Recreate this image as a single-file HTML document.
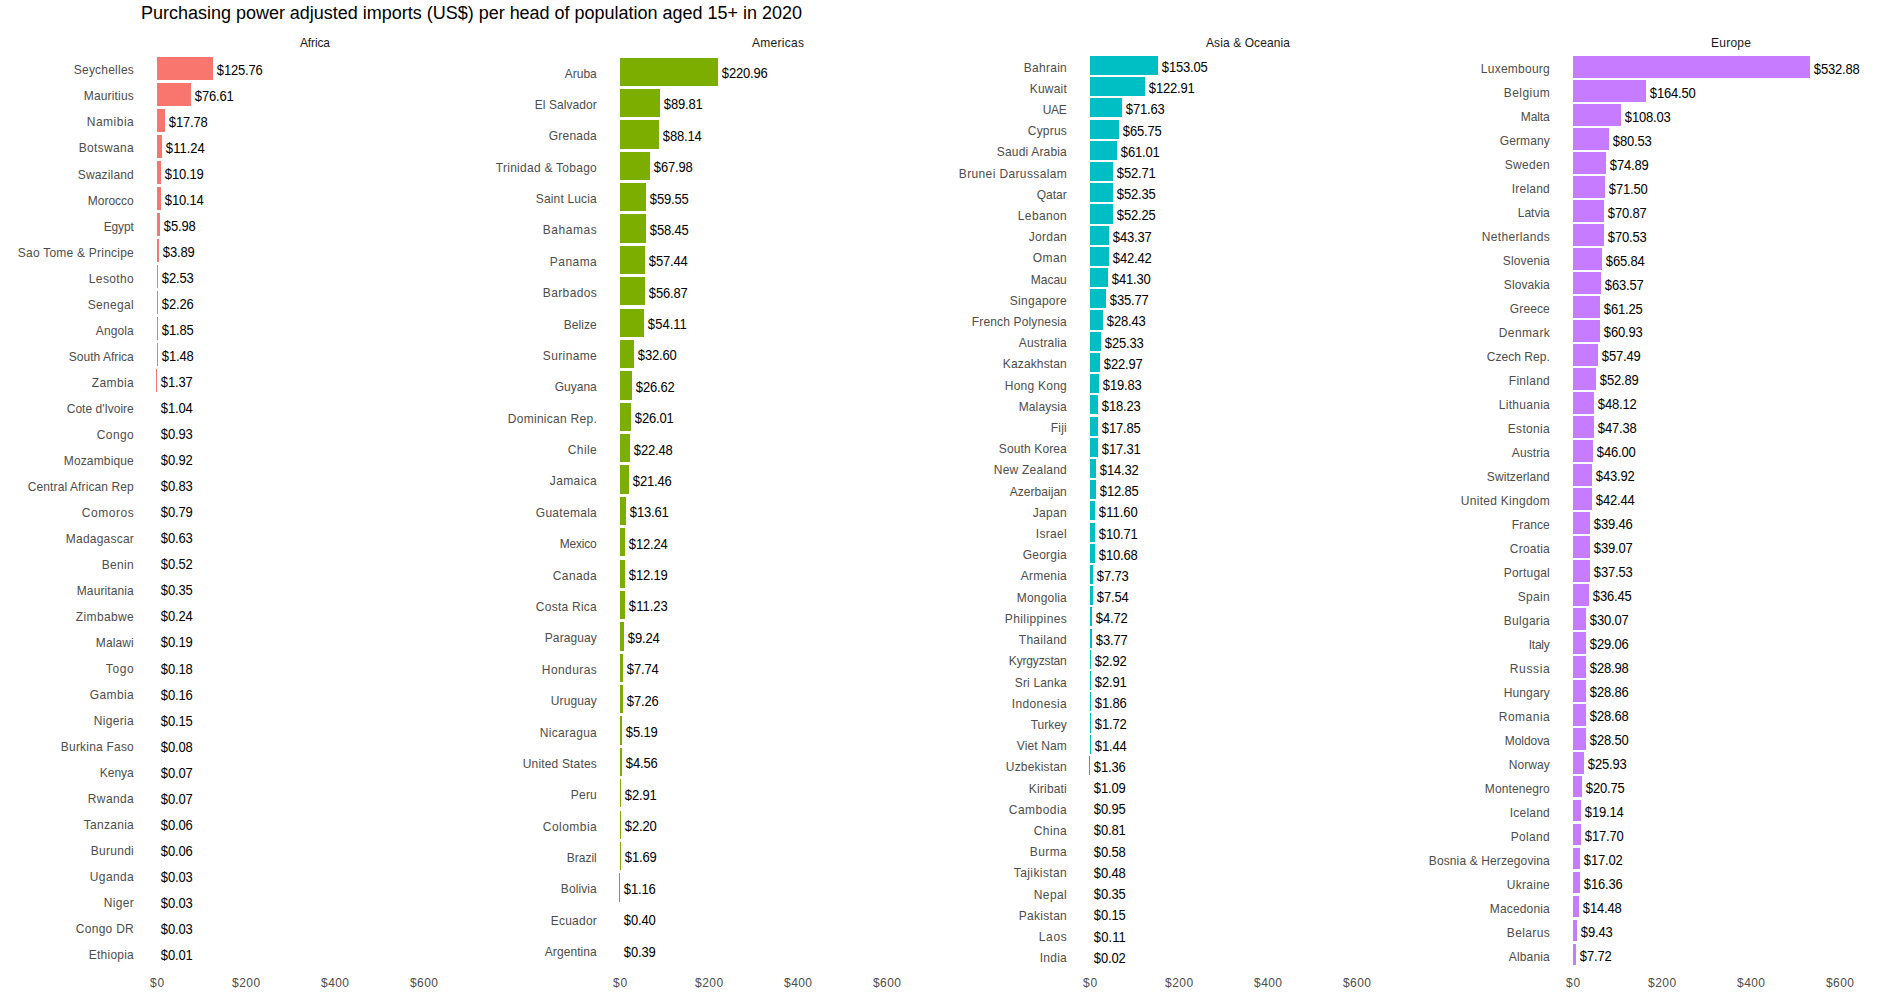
<!DOCTYPE html>
<html lang="en"><head><meta charset="utf-8"><title>Purchasing power adjusted imports</title>
<style>html,body{margin:0;padding:0;background:#fff}body{width:1881px;height:1002px;overflow:hidden}svg{display:block}text{font-family:"Liberation Sans",Arial,Helvetica,sans-serif}.t{font-size:18px;fill:#000}.s{font-size:12px;fill:#1a1a1a;text-anchor:middle}.a{font-size:12px;fill:#4d4d4d;text-anchor:end}.x{font-size:12px;fill:#4d4d4d;text-anchor:middle}.v{font-size:13px;fill:#000}</style></head><body>
<svg width="1881" height="1002" viewBox="0 0 1881 1002">
<rect width="1881" height="1002" fill="#fff"/>
<text class="t" x="141" y="19" textLength="661">Purchasing power adjusted imports (US$) per head of population aged 15+ in 2020</text>
<g>
<text class="s" transform="translate(314.97 47) scale(1 1.08)" textLength="30">Africa</text>
<g fill="#F8766D" shape-rendering="crispEdges">
<rect x="157" y="57" width="56" height="23"/>
<rect x="157" y="83" width="34" height="23"/>
<rect x="157" y="109" width="8" height="23"/>
<rect x="157" y="135" width="5" height="23"/>
<rect x="157" y="161" width="4" height="23"/>
<rect x="157" y="187" width="4" height="23"/>
<rect x="157" y="213" width="3" height="23"/>
<rect x="157" y="239" width="2" height="23"/>
<rect x="157" y="265" width="1" height="23"/>
<rect x="157" y="291" width="1" height="23"/>
<rect x="157" y="317" width="1" height="23"/>
<rect x="157" y="343" width="1" height="23"/>
<rect x="156" y="369" width="1" height="23"/>
</g>
<text class="a" transform="translate(133.77 74) scale(1 1.08)" textLength="60">Seychelles</text>
<text class="a" transform="translate(133.77 100) scale(1 1.08)" textLength="50">Mauritius</text>
<text class="a" transform="translate(133.77 126) scale(1 1.08)" textLength="47">Namibia</text>
<text class="a" transform="translate(133.77 152) scale(1 1.08)" textLength="55">Botswana</text>
<text class="a" transform="translate(133.77 179) scale(1 1.08)" textLength="56">Swaziland</text>
<text class="a" transform="translate(133.77 205) scale(1 1.08)" textLength="46">Morocco</text>
<text class="a" transform="translate(133.77 231) scale(1 1.08)" textLength="30">Egypt</text>
<text class="a" transform="translate(133.77 257) scale(1 1.08)" textLength="116">Sao Tome &amp; Principe</text>
<text class="a" transform="translate(133.77 283) scale(1 1.08)" textLength="45">Lesotho</text>
<text class="a" transform="translate(133.77 309) scale(1 1.08)" textLength="46">Senegal</text>
<text class="a" transform="translate(133.77 335) scale(1 1.08)" textLength="38">Angola</text>
<text class="a" transform="translate(133.77 361) scale(1 1.08)" textLength="65">South Africa</text>
<text class="a" transform="translate(133.77 387) scale(1 1.08)" textLength="42">Zambia</text>
<text class="a" transform="translate(133.77 413) scale(1 1.08)" textLength="67">Cote d'Ivoire</text>
<text class="a" transform="translate(133.77 439) scale(1 1.08)" textLength="37">Congo</text>
<text class="a" transform="translate(133.77 465) scale(1 1.08)" textLength="70">Mozambique</text>
<text class="a" transform="translate(133.77 491) scale(1 1.08)" textLength="106">Central African Rep</text>
<text class="a" transform="translate(133.77 517) scale(1 1.08)" textLength="52">Comoros</text>
<text class="a" transform="translate(133.77 543) scale(1 1.08)" textLength="68">Madagascar</text>
<text class="a" transform="translate(133.77 569) scale(1 1.08)" textLength="32">Benin</text>
<text class="a" transform="translate(133.77 595) scale(1 1.08)" textLength="57">Mauritania</text>
<text class="a" transform="translate(133.77 621) scale(1 1.08)" textLength="58">Zimbabwe</text>
<text class="a" transform="translate(133.77 647) scale(1 1.08)" textLength="38">Malawi</text>
<text class="a" transform="translate(133.77 673) scale(1 1.08)" textLength="28">Togo</text>
<text class="a" transform="translate(133.77 699) scale(1 1.08)" textLength="44">Gambia</text>
<text class="a" transform="translate(133.77 725) scale(1 1.08)" textLength="40">Nigeria</text>
<text class="a" transform="translate(133.77 751) scale(1 1.08)" textLength="73">Burkina Faso</text>
<text class="a" transform="translate(133.77 777) scale(1 1.08)" textLength="34">Kenya</text>
<text class="a" transform="translate(133.77 803) scale(1 1.08)" textLength="46">Rwanda</text>
<text class="a" transform="translate(133.77 829) scale(1 1.08)" textLength="50">Tanzania</text>
<text class="a" transform="translate(133.77 855) scale(1 1.08)" textLength="43">Burundi</text>
<text class="a" transform="translate(133.77 881) scale(1 1.08)" textLength="44">Uganda</text>
<text class="a" transform="translate(133.77 907) scale(1 1.08)" textLength="30">Niger</text>
<text class="a" transform="translate(133.77 933) scale(1 1.08)" textLength="58">Congo DR</text>
<text class="a" transform="translate(133.77 959) scale(1 1.08)" textLength="45">Ethiopia</text>
<text class="v" transform="translate(216.86 75) scale(1 1.1)" textLength="46">$125.76</text>
<text class="v" transform="translate(194.86 101) scale(1 1.1)" textLength="39">$76.61</text>
<text class="v" transform="translate(168.86 127) scale(1 1.1)" textLength="39">$17.78</text>
<text class="v" transform="translate(165.86 153) scale(1 1.1)" textLength="39">$11.24</text>
<text class="v" transform="translate(164.86 179) scale(1 1.1)" textLength="39">$10.19</text>
<text class="v" transform="translate(164.86 205) scale(1 1.1)" textLength="39">$10.14</text>
<text class="v" transform="translate(163.86 231) scale(1 1.1)" textLength="32">$5.98</text>
<text class="v" transform="translate(162.86 257) scale(1 1.1)" textLength="32">$3.89</text>
<text class="v" transform="translate(161.86 283) scale(1 1.1)" textLength="32">$2.53</text>
<text class="v" transform="translate(161.86 309) scale(1 1.1)" textLength="32">$2.26</text>
<text class="v" transform="translate(161.86 335) scale(1 1.1)" textLength="32">$1.85</text>
<text class="v" transform="translate(161.86 361) scale(1 1.1)" textLength="32">$1.48</text>
<text class="v" transform="translate(160.86 387) scale(1 1.1)" textLength="32">$1.37</text>
<text class="v" transform="translate(160.86 413) scale(1 1.1)" textLength="32">$1.04</text>
<text class="v" transform="translate(160.86 439) scale(1 1.1)" textLength="32">$0.93</text>
<text class="v" transform="translate(160.86 465) scale(1 1.1)" textLength="32">$0.92</text>
<text class="v" transform="translate(160.86 491) scale(1 1.1)" textLength="32">$0.83</text>
<text class="v" transform="translate(160.86 517) scale(1 1.1)" textLength="32">$0.79</text>
<text class="v" transform="translate(160.86 543) scale(1 1.1)" textLength="32">$0.63</text>
<text class="v" transform="translate(160.86 569) scale(1 1.1)" textLength="32">$0.52</text>
<text class="v" transform="translate(160.86 595) scale(1 1.1)" textLength="32">$0.35</text>
<text class="v" transform="translate(160.86 621) scale(1 1.1)" textLength="32">$0.24</text>
<text class="v" transform="translate(160.86 647) scale(1 1.1)" textLength="32">$0.19</text>
<text class="v" transform="translate(160.86 674) scale(1 1.1)" textLength="32">$0.18</text>
<text class="v" transform="translate(160.86 700) scale(1 1.1)" textLength="32">$0.16</text>
<text class="v" transform="translate(160.86 726) scale(1 1.1)" textLength="32">$0.15</text>
<text class="v" transform="translate(160.86 752) scale(1 1.1)" textLength="32">$0.08</text>
<text class="v" transform="translate(160.86 778) scale(1 1.1)" textLength="32">$0.07</text>
<text class="v" transform="translate(160.86 804) scale(1 1.1)" textLength="32">$0.07</text>
<text class="v" transform="translate(160.86 830) scale(1 1.1)" textLength="32">$0.06</text>
<text class="v" transform="translate(160.86 856) scale(1 1.1)" textLength="32">$0.06</text>
<text class="v" transform="translate(160.86 882) scale(1 1.1)" textLength="32">$0.03</text>
<text class="v" transform="translate(160.86 908) scale(1 1.1)" textLength="32">$0.03</text>
<text class="v" transform="translate(160.86 934) scale(1 1.1)" textLength="32">$0.03</text>
<text class="v" transform="translate(160.86 960) scale(1 1.1)" textLength="32">$0.01</text>
<text class="x" transform="translate(157.12 987) scale(1 1.08)" textLength="14">$0</text>
<text class="x" transform="translate(246.07 987) scale(1 1.08)" textLength="28">$200</text>
<text class="x" transform="translate(335.02 987) scale(1 1.08)" textLength="28">$400</text>
<text class="x" transform="translate(423.97 987) scale(1 1.08)" textLength="28">$600</text>
</g>
<g>
<text class="s" transform="translate(777.97 47) scale(1 1.08)" textLength="52">Americas</text>
<g fill="#7CAE00" shape-rendering="crispEdges">
<rect x="620" y="58" width="98" height="28"/>
<rect x="620" y="89" width="40" height="28"/>
<rect x="620" y="120" width="39" height="29"/>
<rect x="620" y="152" width="30" height="28"/>
<rect x="620" y="183" width="26" height="28"/>
<rect x="620" y="214" width="26" height="29"/>
<rect x="620" y="246" width="25" height="28"/>
<rect x="620" y="277" width="25" height="28"/>
<rect x="620" y="309" width="24" height="28"/>
<rect x="620" y="340" width="14" height="28"/>
<rect x="620" y="371" width="12" height="29"/>
<rect x="620" y="403" width="11" height="28"/>
<rect x="620" y="434" width="10" height="28"/>
<rect x="620" y="465" width="9" height="29"/>
<rect x="620" y="497" width="6" height="28"/>
<rect x="620" y="528" width="5" height="28"/>
<rect x="620" y="560" width="5" height="28"/>
<rect x="620" y="591" width="5" height="28"/>
<rect x="620" y="622" width="4" height="29"/>
<rect x="620" y="654" width="3" height="28"/>
<rect x="620" y="685" width="3" height="28"/>
<rect x="620" y="716" width="2" height="29"/>
<rect x="620" y="748" width="2" height="28"/>
<rect x="620" y="779" width="1" height="28"/>
<rect x="620" y="811" width="1" height="28"/>
<rect x="620" y="842" width="1" height="28"/>
<rect x="619" y="873" width="1" height="29"/>
</g>
<text class="a" transform="translate(596.77 78) scale(1 1.08)" textLength="32">Aruba</text>
<text class="a" transform="translate(596.77 109) scale(1 1.08)" textLength="62">El Salvador</text>
<text class="a" transform="translate(596.77 140) scale(1 1.08)" textLength="48">Grenada</text>
<text class="a" transform="translate(596.77 172) scale(1 1.08)" textLength="101">Trinidad &amp; Tobago</text>
<text class="a" transform="translate(596.77 203) scale(1 1.08)" textLength="61">Saint Lucia</text>
<text class="a" transform="translate(596.77 234) scale(1 1.08)" textLength="54">Bahamas</text>
<text class="a" transform="translate(596.77 266) scale(1 1.08)" textLength="47">Panama</text>
<text class="a" transform="translate(596.77 297) scale(1 1.08)" textLength="54">Barbados</text>
<text class="a" transform="translate(596.77 329) scale(1 1.08)" textLength="33">Belize</text>
<text class="a" transform="translate(596.77 360) scale(1 1.08)" textLength="54">Suriname</text>
<text class="a" transform="translate(596.77 391) scale(1 1.08)" textLength="42">Guyana</text>
<text class="a" transform="translate(596.77 423) scale(1 1.08)" textLength="89">Dominican Rep.</text>
<text class="a" transform="translate(596.77 454) scale(1 1.08)" textLength="29">Chile</text>
<text class="a" transform="translate(596.77 485) scale(1 1.08)" textLength="47">Jamaica</text>
<text class="a" transform="translate(596.77 517) scale(1 1.08)" textLength="61">Guatemala</text>
<text class="a" transform="translate(596.77 548) scale(1 1.08)" textLength="37">Mexico</text>
<text class="a" transform="translate(596.77 580) scale(1 1.08)" textLength="44">Canada</text>
<text class="a" transform="translate(596.77 611) scale(1 1.08)" textLength="61">Costa Rica</text>
<text class="a" transform="translate(596.77 642) scale(1 1.08)" textLength="52">Paraguay</text>
<text class="a" transform="translate(596.77 674) scale(1 1.08)" textLength="55">Honduras</text>
<text class="a" transform="translate(596.77 705) scale(1 1.08)" textLength="46">Uruguay</text>
<text class="a" transform="translate(596.77 737) scale(1 1.08)" textLength="57">Nicaragua</text>
<text class="a" transform="translate(596.77 768) scale(1 1.08)" textLength="74">United States</text>
<text class="a" transform="translate(596.77 799) scale(1 1.08)" textLength="26">Peru</text>
<text class="a" transform="translate(596.77 831) scale(1 1.08)" textLength="54">Colombia</text>
<text class="a" transform="translate(596.77 862) scale(1 1.08)" textLength="30">Brazil</text>
<text class="a" transform="translate(596.77 893) scale(1 1.08)" textLength="36">Bolivia</text>
<text class="a" transform="translate(596.77 925) scale(1 1.08)" textLength="46">Ecuador</text>
<text class="a" transform="translate(596.77 956) scale(1 1.08)" textLength="52">Argentina</text>
<text class="v" transform="translate(721.86 78) scale(1 1.1)" textLength="46">$220.96</text>
<text class="v" transform="translate(663.86 109) scale(1 1.1)" textLength="39">$89.81</text>
<text class="v" transform="translate(662.86 141) scale(1 1.1)" textLength="39">$88.14</text>
<text class="v" transform="translate(653.86 172) scale(1 1.1)" textLength="39">$67.98</text>
<text class="v" transform="translate(649.86 204) scale(1 1.1)" textLength="39">$59.55</text>
<text class="v" transform="translate(649.86 235) scale(1 1.1)" textLength="39">$58.45</text>
<text class="v" transform="translate(648.86 266) scale(1 1.1)" textLength="39">$57.44</text>
<text class="v" transform="translate(648.86 298) scale(1 1.1)" textLength="39">$56.87</text>
<text class="v" transform="translate(647.86 329) scale(1 1.1)" textLength="39">$54.11</text>
<text class="v" transform="translate(637.86 360) scale(1 1.1)" textLength="39">$32.60</text>
<text class="v" transform="translate(635.86 392) scale(1 1.1)" textLength="39">$26.62</text>
<text class="v" transform="translate(634.86 423) scale(1 1.1)" textLength="39">$26.01</text>
<text class="v" transform="translate(633.86 455) scale(1 1.1)" textLength="39">$22.48</text>
<text class="v" transform="translate(632.86 486) scale(1 1.1)" textLength="39">$21.46</text>
<text class="v" transform="translate(629.86 517) scale(1 1.1)" textLength="39">$13.61</text>
<text class="v" transform="translate(628.86 549) scale(1 1.1)" textLength="39">$12.24</text>
<text class="v" transform="translate(628.86 580) scale(1 1.1)" textLength="39">$12.19</text>
<text class="v" transform="translate(628.86 611) scale(1 1.1)" textLength="39">$11.23</text>
<text class="v" transform="translate(627.86 643) scale(1 1.1)" textLength="32">$9.24</text>
<text class="v" transform="translate(626.86 674) scale(1 1.1)" textLength="32">$7.74</text>
<text class="v" transform="translate(626.86 706) scale(1 1.1)" textLength="32">$7.26</text>
<text class="v" transform="translate(625.86 737) scale(1 1.1)" textLength="32">$5.19</text>
<text class="v" transform="translate(625.86 768) scale(1 1.1)" textLength="32">$4.56</text>
<text class="v" transform="translate(624.86 800) scale(1 1.1)" textLength="32">$2.91</text>
<text class="v" transform="translate(624.86 831) scale(1 1.1)" textLength="32">$2.20</text>
<text class="v" transform="translate(624.86 862) scale(1 1.1)" textLength="32">$1.69</text>
<text class="v" transform="translate(623.86 894) scale(1 1.1)" textLength="32">$1.16</text>
<text class="v" transform="translate(623.86 925) scale(1 1.1)" textLength="32">$0.40</text>
<text class="v" transform="translate(623.86 957) scale(1 1.1)" textLength="32">$0.39</text>
<text class="x" transform="translate(620.12 987) scale(1 1.08)" textLength="14">$0</text>
<text class="x" transform="translate(709.07 987) scale(1 1.08)" textLength="28">$200</text>
<text class="x" transform="translate(798.02 987) scale(1 1.08)" textLength="28">$400</text>
<text class="x" transform="translate(886.97 987) scale(1 1.08)" textLength="28">$600</text>
</g>
<g>
<text class="s" transform="translate(1247.97 47) scale(1 1.08)" textLength="84">Asia &amp; Oceania</text>
<g fill="#00BFC4" shape-rendering="crispEdges">
<rect x="1090" y="56" width="68" height="19"/>
<rect x="1090" y="77" width="55" height="19"/>
<rect x="1090" y="98" width="32" height="19"/>
<rect x="1090" y="120" width="29" height="19"/>
<rect x="1090" y="141" width="27" height="19"/>
<rect x="1090" y="162" width="23" height="19"/>
<rect x="1090" y="183" width="23" height="19"/>
<rect x="1090" y="204" width="23" height="20"/>
<rect x="1090" y="226" width="19" height="19"/>
<rect x="1090" y="247" width="19" height="19"/>
<rect x="1090" y="268" width="18" height="19"/>
<rect x="1090" y="289" width="16" height="19"/>
<rect x="1090" y="310" width="13" height="20"/>
<rect x="1090" y="332" width="11" height="19"/>
<rect x="1090" y="353" width="10" height="19"/>
<rect x="1090" y="374" width="9" height="19"/>
<rect x="1090" y="395" width="8" height="19"/>
<rect x="1090" y="417" width="8" height="19"/>
<rect x="1090" y="438" width="8" height="19"/>
<rect x="1090" y="459" width="6" height="19"/>
<rect x="1090" y="480" width="6" height="19"/>
<rect x="1090" y="501" width="5" height="19"/>
<rect x="1090" y="523" width="5" height="19"/>
<rect x="1090" y="544" width="5" height="19"/>
<rect x="1090" y="565" width="3" height="19"/>
<rect x="1090" y="586" width="3" height="19"/>
<rect x="1090" y="607" width="2" height="19"/>
<rect x="1090" y="629" width="2" height="19"/>
<rect x="1090" y="650" width="1" height="19"/>
<rect x="1090" y="671" width="1" height="19"/>
<rect x="1090" y="692" width="1" height="19"/>
<rect x="1090" y="713" width="1" height="20"/>
<rect x="1090" y="735" width="1" height="19"/>
<rect x="1089" y="756" width="1" height="19"/>
</g>
<text class="a" transform="translate(1066.77 72) scale(1 1.08)" textLength="43">Bahrain</text>
<text class="a" transform="translate(1066.77 93) scale(1 1.08)" textLength="37">Kuwait</text>
<text class="a" transform="translate(1066.77 114) scale(1 1.08)" textLength="24">UAE</text>
<text class="a" transform="translate(1066.77 135) scale(1 1.08)" textLength="39">Cyprus</text>
<text class="a" transform="translate(1066.77 156) scale(1 1.08)" textLength="70">Saudi Arabia</text>
<text class="a" transform="translate(1066.77 178) scale(1 1.08)" textLength="108">Brunei Darussalam</text>
<text class="a" transform="translate(1066.77 199) scale(1 1.08)" textLength="30">Qatar</text>
<text class="a" transform="translate(1066.77 220) scale(1 1.08)" textLength="49">Lebanon</text>
<text class="a" transform="translate(1066.77 241) scale(1 1.08)" textLength="38">Jordan</text>
<text class="a" transform="translate(1066.77 262) scale(1 1.08)" textLength="34">Oman</text>
<text class="a" transform="translate(1066.77 284) scale(1 1.08)" textLength="36">Macau</text>
<text class="a" transform="translate(1066.77 305) scale(1 1.08)" textLength="57">Singapore</text>
<text class="a" transform="translate(1066.77 326) scale(1 1.08)" textLength="95">French Polynesia</text>
<text class="a" transform="translate(1066.77 347) scale(1 1.08)" textLength="48">Australia</text>
<text class="a" transform="translate(1066.77 368) scale(1 1.08)" textLength="64">Kazakhstan</text>
<text class="a" transform="translate(1066.77 390) scale(1 1.08)" textLength="62">Hong Kong</text>
<text class="a" transform="translate(1066.77 411) scale(1 1.08)" textLength="48">Malaysia</text>
<text class="a" transform="translate(1066.77 432) scale(1 1.08)" textLength="16">Fiji</text>
<text class="a" transform="translate(1066.77 453) scale(1 1.08)" textLength="68">South Korea</text>
<text class="a" transform="translate(1066.77 474) scale(1 1.08)" textLength="73">New Zealand</text>
<text class="a" transform="translate(1066.77 496) scale(1 1.08)" textLength="57">Azerbaijan</text>
<text class="a" transform="translate(1066.77 517) scale(1 1.08)" textLength="34">Japan</text>
<text class="a" transform="translate(1066.77 538) scale(1 1.08)" textLength="31">Israel</text>
<text class="a" transform="translate(1066.77 559) scale(1 1.08)" textLength="44">Georgia</text>
<text class="a" transform="translate(1066.77 580) scale(1 1.08)" textLength="46">Armenia</text>
<text class="a" transform="translate(1066.77 602) scale(1 1.08)" textLength="50">Mongolia</text>
<text class="a" transform="translate(1066.77 623) scale(1 1.08)" textLength="62">Philippines</text>
<text class="a" transform="translate(1066.77 644) scale(1 1.08)" textLength="48">Thailand</text>
<text class="a" transform="translate(1066.77 665) scale(1 1.08)" textLength="58">Kyrgyzstan</text>
<text class="a" transform="translate(1066.77 687) scale(1 1.08)" textLength="52">Sri Lanka</text>
<text class="a" transform="translate(1066.77 708) scale(1 1.08)" textLength="55">Indonesia</text>
<text class="a" transform="translate(1066.77 729) scale(1 1.08)" textLength="36">Turkey</text>
<text class="a" transform="translate(1066.77 750) scale(1 1.08)" textLength="50">Viet Nam</text>
<text class="a" transform="translate(1066.77 771) scale(1 1.08)" textLength="61">Uzbekistan</text>
<text class="a" transform="translate(1066.77 793) scale(1 1.08)" textLength="38">Kiribati</text>
<text class="a" transform="translate(1066.77 814) scale(1 1.08)" textLength="58">Cambodia</text>
<text class="a" transform="translate(1066.77 835) scale(1 1.08)" textLength="33">China</text>
<text class="a" transform="translate(1066.77 856) scale(1 1.08)" textLength="37">Burma</text>
<text class="a" transform="translate(1066.77 877) scale(1 1.08)" textLength="53">Tajikistan</text>
<text class="a" transform="translate(1066.77 899) scale(1 1.08)" textLength="33">Nepal</text>
<text class="a" transform="translate(1066.77 920) scale(1 1.08)" textLength="48">Pakistan</text>
<text class="a" transform="translate(1066.77 941) scale(1 1.08)" textLength="28">Laos</text>
<text class="a" transform="translate(1066.77 962) scale(1 1.08)" textLength="27">India</text>
<text class="v" transform="translate(1161.86 72) scale(1 1.1)" textLength="46">$153.05</text>
<text class="v" transform="translate(1148.86 93) scale(1 1.1)" textLength="46">$122.91</text>
<text class="v" transform="translate(1125.86 114) scale(1 1.1)" textLength="39">$71.63</text>
<text class="v" transform="translate(1122.86 136) scale(1 1.1)" textLength="39">$65.75</text>
<text class="v" transform="translate(1120.86 157) scale(1 1.1)" textLength="39">$61.01</text>
<text class="v" transform="translate(1116.86 178) scale(1 1.1)" textLength="39">$52.71</text>
<text class="v" transform="translate(1116.86 199) scale(1 1.1)" textLength="39">$52.35</text>
<text class="v" transform="translate(1116.86 220) scale(1 1.1)" textLength="39">$52.25</text>
<text class="v" transform="translate(1112.86 242) scale(1 1.1)" textLength="39">$43.37</text>
<text class="v" transform="translate(1112.86 263) scale(1 1.1)" textLength="39">$42.42</text>
<text class="v" transform="translate(1111.86 284) scale(1 1.1)" textLength="39">$41.30</text>
<text class="v" transform="translate(1109.86 305) scale(1 1.1)" textLength="39">$35.77</text>
<text class="v" transform="translate(1106.86 326) scale(1 1.1)" textLength="39">$28.43</text>
<text class="v" transform="translate(1104.86 348) scale(1 1.1)" textLength="39">$25.33</text>
<text class="v" transform="translate(1103.86 369) scale(1 1.1)" textLength="39">$22.97</text>
<text class="v" transform="translate(1102.86 390) scale(1 1.1)" textLength="39">$19.83</text>
<text class="v" transform="translate(1101.86 411) scale(1 1.1)" textLength="39">$18.23</text>
<text class="v" transform="translate(1101.86 433) scale(1 1.1)" textLength="39">$17.85</text>
<text class="v" transform="translate(1101.86 454) scale(1 1.1)" textLength="39">$17.31</text>
<text class="v" transform="translate(1099.86 475) scale(1 1.1)" textLength="39">$14.32</text>
<text class="v" transform="translate(1099.86 496) scale(1 1.1)" textLength="39">$12.85</text>
<text class="v" transform="translate(1098.86 517) scale(1 1.1)" textLength="39">$11.60</text>
<text class="v" transform="translate(1098.86 539) scale(1 1.1)" textLength="39">$10.71</text>
<text class="v" transform="translate(1098.86 560) scale(1 1.1)" textLength="39">$10.68</text>
<text class="v" transform="translate(1096.86 581) scale(1 1.1)" textLength="32">$7.73</text>
<text class="v" transform="translate(1096.86 602) scale(1 1.1)" textLength="32">$7.54</text>
<text class="v" transform="translate(1095.86 623) scale(1 1.1)" textLength="32">$4.72</text>
<text class="v" transform="translate(1095.86 645) scale(1 1.1)" textLength="32">$3.77</text>
<text class="v" transform="translate(1094.86 666) scale(1 1.1)" textLength="32">$2.92</text>
<text class="v" transform="translate(1094.86 687) scale(1 1.1)" textLength="32">$2.91</text>
<text class="v" transform="translate(1094.86 708) scale(1 1.1)" textLength="32">$1.86</text>
<text class="v" transform="translate(1094.86 729) scale(1 1.1)" textLength="32">$1.72</text>
<text class="v" transform="translate(1094.86 751) scale(1 1.1)" textLength="32">$1.44</text>
<text class="v" transform="translate(1093.86 772) scale(1 1.1)" textLength="32">$1.36</text>
<text class="v" transform="translate(1093.86 793) scale(1 1.1)" textLength="32">$1.09</text>
<text class="v" transform="translate(1093.86 814) scale(1 1.1)" textLength="32">$0.95</text>
<text class="v" transform="translate(1093.86 835) scale(1 1.1)" textLength="32">$0.81</text>
<text class="v" transform="translate(1093.86 857) scale(1 1.1)" textLength="32">$0.58</text>
<text class="v" transform="translate(1093.86 878) scale(1 1.1)" textLength="32">$0.48</text>
<text class="v" transform="translate(1093.86 899) scale(1 1.1)" textLength="32">$0.35</text>
<text class="v" transform="translate(1093.86 920) scale(1 1.1)" textLength="32">$0.15</text>
<text class="v" transform="translate(1093.86 942) scale(1 1.1)" textLength="32">$0.11</text>
<text class="v" transform="translate(1093.86 963) scale(1 1.1)" textLength="32">$0.02</text>
<text class="x" transform="translate(1090.12 987) scale(1 1.08)" textLength="14">$0</text>
<text class="x" transform="translate(1179.07 987) scale(1 1.08)" textLength="28">$200</text>
<text class="x" transform="translate(1268.02 987) scale(1 1.08)" textLength="28">$400</text>
<text class="x" transform="translate(1356.97 987) scale(1 1.08)" textLength="28">$600</text>
</g>
<g>
<text class="s" transform="translate(1730.97 47) scale(1 1.08)" textLength="40">Europe</text>
<g fill="#C77CFF" shape-rendering="crispEdges">
<rect x="1573" y="56" width="237" height="22"/>
<rect x="1573" y="80" width="73" height="22"/>
<rect x="1573" y="104" width="48" height="22"/>
<rect x="1573" y="128" width="36" height="22"/>
<rect x="1573" y="152" width="33" height="22"/>
<rect x="1573" y="176" width="32" height="22"/>
<rect x="1573" y="200" width="31" height="22"/>
<rect x="1573" y="224" width="31" height="22"/>
<rect x="1573" y="248" width="29" height="22"/>
<rect x="1573" y="272" width="28" height="22"/>
<rect x="1573" y="296" width="27" height="22"/>
<rect x="1573" y="320" width="27" height="22"/>
<rect x="1573" y="344" width="25" height="22"/>
<rect x="1573" y="368" width="23" height="22"/>
<rect x="1573" y="392" width="21" height="22"/>
<rect x="1573" y="416" width="21" height="22"/>
<rect x="1573" y="440" width="20" height="22"/>
<rect x="1573" y="464" width="19" height="22"/>
<rect x="1573" y="488" width="19" height="22"/>
<rect x="1573" y="512" width="17" height="22"/>
<rect x="1573" y="536" width="17" height="22"/>
<rect x="1573" y="560" width="17" height="22"/>
<rect x="1573" y="584" width="16" height="22"/>
<rect x="1573" y="608" width="13" height="22"/>
<rect x="1573" y="632" width="13" height="22"/>
<rect x="1573" y="656" width="13" height="22"/>
<rect x="1573" y="680" width="13" height="22"/>
<rect x="1573" y="704" width="13" height="22"/>
<rect x="1573" y="728" width="13" height="22"/>
<rect x="1573" y="752" width="11" height="22"/>
<rect x="1573" y="776" width="9" height="21"/>
<rect x="1573" y="800" width="8" height="21"/>
<rect x="1573" y="824" width="8" height="21"/>
<rect x="1573" y="848" width="7" height="21"/>
<rect x="1573" y="872" width="7" height="21"/>
<rect x="1573" y="896" width="6" height="21"/>
<rect x="1573" y="920" width="4" height="21"/>
<rect x="1573" y="944" width="3" height="21"/>
</g>
<text class="a" transform="translate(1549.77 73) scale(1 1.08)" textLength="69">Luxembourg</text>
<text class="a" transform="translate(1549.77 97) scale(1 1.08)" textLength="46">Belgium</text>
<text class="a" transform="translate(1549.77 121) scale(1 1.08)" textLength="29">Malta</text>
<text class="a" transform="translate(1549.77 145) scale(1 1.08)" textLength="50">Germany</text>
<text class="a" transform="translate(1549.77 169) scale(1 1.08)" textLength="45">Sweden</text>
<text class="a" transform="translate(1549.77 193) scale(1 1.08)" textLength="38">Ireland</text>
<text class="a" transform="translate(1549.77 217) scale(1 1.08)" textLength="32">Latvia</text>
<text class="a" transform="translate(1549.77 241) scale(1 1.08)" textLength="68">Netherlands</text>
<text class="a" transform="translate(1549.77 265) scale(1 1.08)" textLength="47">Slovenia</text>
<text class="a" transform="translate(1549.77 289) scale(1 1.08)" textLength="46">Slovakia</text>
<text class="a" transform="translate(1549.77 313) scale(1 1.08)" textLength="40">Greece</text>
<text class="a" transform="translate(1549.77 337) scale(1 1.08)" textLength="51">Denmark</text>
<text class="a" transform="translate(1549.77 361) scale(1 1.08)" textLength="63">Czech Rep.</text>
<text class="a" transform="translate(1549.77 385) scale(1 1.08)" textLength="41">Finland</text>
<text class="a" transform="translate(1549.77 409) scale(1 1.08)" textLength="51">Lithuania</text>
<text class="a" transform="translate(1549.77 433) scale(1 1.08)" textLength="42">Estonia</text>
<text class="a" transform="translate(1549.77 457) scale(1 1.08)" textLength="38">Austria</text>
<text class="a" transform="translate(1549.77 481) scale(1 1.08)" textLength="63">Switzerland</text>
<text class="a" transform="translate(1549.77 505) scale(1 1.08)" textLength="89">United Kingdom</text>
<text class="a" transform="translate(1549.77 529) scale(1 1.08)" textLength="38">France</text>
<text class="a" transform="translate(1549.77 553) scale(1 1.08)" textLength="40">Croatia</text>
<text class="a" transform="translate(1549.77 577) scale(1 1.08)" textLength="46">Portugal</text>
<text class="a" transform="translate(1549.77 601) scale(1 1.08)" textLength="32">Spain</text>
<text class="a" transform="translate(1549.77 625) scale(1 1.08)" textLength="46">Bulgaria</text>
<text class="a" transform="translate(1549.77 649) scale(1 1.08)" textLength="21">Italy</text>
<text class="a" transform="translate(1549.77 673) scale(1 1.08)" textLength="40">Russia</text>
<text class="a" transform="translate(1549.77 697) scale(1 1.08)" textLength="46">Hungary</text>
<text class="a" transform="translate(1549.77 721) scale(1 1.08)" textLength="51">Romania</text>
<text class="a" transform="translate(1549.77 745) scale(1 1.08)" textLength="45">Moldova</text>
<text class="a" transform="translate(1549.77 769) scale(1 1.08)" textLength="41">Norway</text>
<text class="a" transform="translate(1549.77 793) scale(1 1.08)" textLength="65">Montenegro</text>
<text class="a" transform="translate(1549.77 817) scale(1 1.08)" textLength="40">Iceland</text>
<text class="a" transform="translate(1549.77 841) scale(1 1.08)" textLength="39">Poland</text>
<text class="a" transform="translate(1549.77 865) scale(1 1.08)" textLength="121">Bosnia &amp; Herzegovina</text>
<text class="a" transform="translate(1549.77 889) scale(1 1.08)" textLength="43">Ukraine</text>
<text class="a" transform="translate(1549.77 913) scale(1 1.08)" textLength="60">Macedonia</text>
<text class="a" transform="translate(1549.77 937) scale(1 1.08)" textLength="43">Belarus</text>
<text class="a" transform="translate(1549.77 961) scale(1 1.08)" textLength="41">Albania</text>
<text class="v" transform="translate(1813.86 74) scale(1 1.1)" textLength="46">$532.88</text>
<text class="v" transform="translate(1649.86 98) scale(1 1.1)" textLength="46">$164.50</text>
<text class="v" transform="translate(1624.86 122) scale(1 1.1)" textLength="46">$108.03</text>
<text class="v" transform="translate(1612.86 146) scale(1 1.1)" textLength="39">$80.53</text>
<text class="v" transform="translate(1609.86 170) scale(1 1.1)" textLength="39">$74.89</text>
<text class="v" transform="translate(1608.86 194) scale(1 1.1)" textLength="39">$71.50</text>
<text class="v" transform="translate(1607.86 218) scale(1 1.1)" textLength="39">$70.87</text>
<text class="v" transform="translate(1607.86 242) scale(1 1.1)" textLength="39">$70.53</text>
<text class="v" transform="translate(1605.86 266) scale(1 1.1)" textLength="39">$65.84</text>
<text class="v" transform="translate(1604.86 290) scale(1 1.1)" textLength="39">$63.57</text>
<text class="v" transform="translate(1603.86 314) scale(1 1.1)" textLength="39">$61.25</text>
<text class="v" transform="translate(1603.86 337) scale(1 1.1)" textLength="39">$60.93</text>
<text class="v" transform="translate(1601.86 361) scale(1 1.1)" textLength="39">$57.49</text>
<text class="v" transform="translate(1599.86 385) scale(1 1.1)" textLength="39">$52.89</text>
<text class="v" transform="translate(1597.86 409) scale(1 1.1)" textLength="39">$48.12</text>
<text class="v" transform="translate(1597.86 433) scale(1 1.1)" textLength="39">$47.38</text>
<text class="v" transform="translate(1596.86 457) scale(1 1.1)" textLength="39">$46.00</text>
<text class="v" transform="translate(1595.86 481) scale(1 1.1)" textLength="39">$43.92</text>
<text class="v" transform="translate(1595.86 505) scale(1 1.1)" textLength="39">$42.44</text>
<text class="v" transform="translate(1593.86 529) scale(1 1.1)" textLength="39">$39.46</text>
<text class="v" transform="translate(1593.86 553) scale(1 1.1)" textLength="39">$39.07</text>
<text class="v" transform="translate(1593.86 577) scale(1 1.1)" textLength="39">$37.53</text>
<text class="v" transform="translate(1592.86 601) scale(1 1.1)" textLength="39">$36.45</text>
<text class="v" transform="translate(1589.86 625) scale(1 1.1)" textLength="39">$30.07</text>
<text class="v" transform="translate(1589.86 649) scale(1 1.1)" textLength="39">$29.06</text>
<text class="v" transform="translate(1589.86 673) scale(1 1.1)" textLength="39">$28.98</text>
<text class="v" transform="translate(1589.86 697) scale(1 1.1)" textLength="39">$28.86</text>
<text class="v" transform="translate(1589.86 721) scale(1 1.1)" textLength="39">$28.68</text>
<text class="v" transform="translate(1589.86 745) scale(1 1.1)" textLength="39">$28.50</text>
<text class="v" transform="translate(1587.86 769) scale(1 1.1)" textLength="39">$25.93</text>
<text class="v" transform="translate(1585.86 793) scale(1 1.1)" textLength="39">$20.75</text>
<text class="v" transform="translate(1584.86 817) scale(1 1.1)" textLength="39">$19.14</text>
<text class="v" transform="translate(1584.86 841) scale(1 1.1)" textLength="39">$17.70</text>
<text class="v" transform="translate(1583.86 865) scale(1 1.1)" textLength="39">$17.02</text>
<text class="v" transform="translate(1583.86 889) scale(1 1.1)" textLength="39">$16.36</text>
<text class="v" transform="translate(1582.86 913) scale(1 1.1)" textLength="39">$14.48</text>
<text class="v" transform="translate(1580.86 937) scale(1 1.1)" textLength="32">$9.43</text>
<text class="v" transform="translate(1579.86 961) scale(1 1.1)" textLength="32">$7.72</text>
<text class="x" transform="translate(1573.12 987) scale(1 1.08)" textLength="14">$0</text>
<text class="x" transform="translate(1662.07 987) scale(1 1.08)" textLength="28">$200</text>
<text class="x" transform="translate(1751.02 987) scale(1 1.08)" textLength="28">$400</text>
<text class="x" transform="translate(1839.97 987) scale(1 1.08)" textLength="28">$600</text>
</g>
</svg></body></html>
